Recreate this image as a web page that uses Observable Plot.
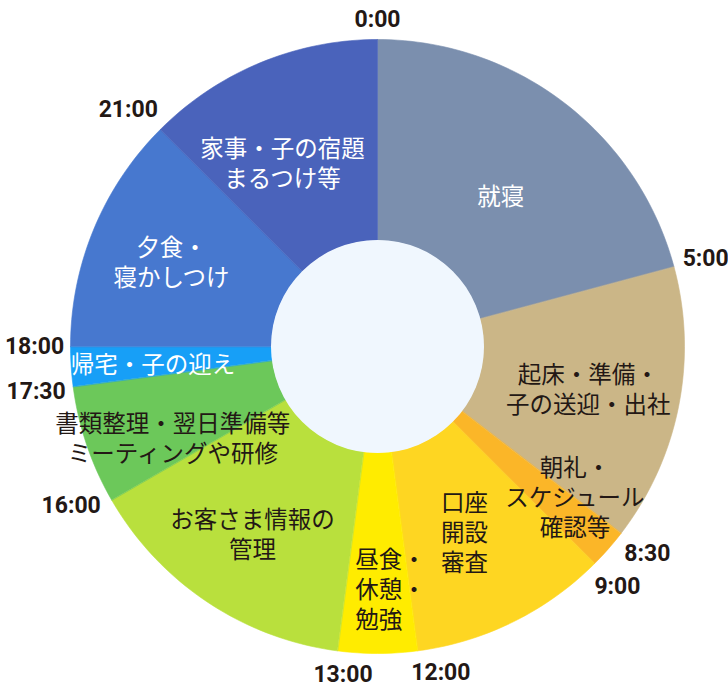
<!DOCTYPE html>
<html>
<head>
<meta charset="utf-8">
<script src="https://cdn.jsdelivr.net/npm/d3@7"></script>
<script src="https://cdn.jsdelivr.net/npm/@observablehq/plot@0.6"></script>
<style>
  html, body { margin: 0; padding: 0; background: #ffffff; }
  #chart svg { display: block; }
</style>
</head>
<body>
<div id="chart"></div>
<script>
// ---- data (one day, clockwise from 0:00) ----
const activities = [
  "就寝",
  "起床・準備・\n子の送迎・出社",
  "朝礼・\nスケジュール\n確認等",
  "口座\n開設\n審査",
  "昼食・\n休憩・\n勉強",
  "お客さま情報の\n管理",
  "書類整理・翌日準備等\nミーティングや研修",
  "帰宅・子の迎え",
  "夕食・\n寝かしつけ",
  "家事・子の宿題\nまるつけ等"
];
// drawn span of each activity, hours
const durations = [5, 3.5, 0.5, 2.5, 1, 3.5, 1.5, 0.5, 3, 3];
const palette = ["#7b8fae", "#cbb687", "#fbb628", "#fed622", "#ffec00",
                 "#b9e03d", "#6cc85a", "#179ff7", "#4778cf", "#4a63bb"];
const labelInk = ["#ffffff", "#231815", "#231815", "#231815", "#231815",
                  "#231815", "#231815", "#ffffff", "#ffffff", "#ffffff"];
// time labels at the start of each activity
const tickLabels = ["0:00", "5:00", "8:30", "9:00", "12:00", "13:00", "16:00", "17:30", "18:00", "21:00"];

// ---- layout ----
const W = 728, H = 687;
const cx = 377, cy = 346;         // centre in page pixels
const R_OUT = 307, R_IN = 106;
const ang = h => h / 24 * 2 * Math.PI;
const rad = deg => deg * Math.PI / 180;
const pt = (r, t) => ({x: r * Math.sin(t), y: r * Math.cos(t)});

const starts = d3.cumsum([0, ...durations]).slice(0, durations.length);

const wedges = durations.map((d, i) => {
  const s = starts[i], e = s + d;
  const n = Math.max(4, Math.ceil(d * 12));
  const pts = [];
  for (let k = 0; k <= n; k++) pts.push({...pt(R_OUT, ang(s + (e - s) * k / n)), id: i});
  for (let k = n; k >= 0; k--) pts.push({...pt(R_IN, ang(s + (e - s) * k / n)), id: i});
  return pts;
});

// label placement in polar terms: [radius, angle offset from wedge middle (deg)]
const labelPlace = [[195, 1.7], [215, 0], [248, -4], [204, 1], [242, -3],
                    [225, 0], [224, -5.25], [225, -0.5], [223, 0], [207, -4.8]];
const labels = activities.map((a, i) => {
  const midDeg = (starts[i] + durations[i] / 2) / 24 * 360;
  const [r, off] = labelPlace[i];
  return {...pt(r, rad(midDeg + off)), text: a, ink: labelInk[i], i};
});

// tick labels sit just outside the ring at each boundary; a few are nudged apart (deg)
const tickNudge = {4: -3.5, 5: -1.5, 6: 2.5, 9: -1.5};
const ticks = tickLabels.map((t, i) => {
  const th = ang(starts[i]) + rad(tickNudge[i] || 0);
  const w = 11.2 * t.length, h = 24;
  const ext = Math.abs(Math.sin(th)) * w / 2 + Math.abs(Math.cos(th)) * h / 2;
  return {...pt(R_OUT + 8 + ext, th), text: t};
});

const cjk = "'Noto Sans CJK JP', 'Noto Sans', sans-serif";

const plot = Plot.plot({
  width: W,
  height: H,
  margin: 0,
  x: {domain: [-cx, W - cx], axis: null},
  y: {domain: [cy - H, cy], axis: null},
  marks: [
    ...wedges.map((pts, i) => Plot.line(pts, {
      x: "x", y: "y", fill: palette[i], stroke: palette[i], strokeWidth: 0.6,
      curve: "linear-closed"
    })),
    Plot.dot([{x: 0, y: 0}], {x: "x", y: "y", r: R_IN + 0.5, fill: "#f0f7fe", stroke: "none"}),
    Plot.text(labels.filter(d => d.i !== 4), {
      x: "x", y: "y", text: "text", fill: "ink",
      fontFamily: cjk, fontSize: 23.5, lineHeight: 1.28, textAnchor: "middle"
    }),
    Plot.text(labels.filter(d => d.i === 4), {
      x: "x", y: "y", text: "text", fill: "ink", dx: -35,
      fontFamily: cjk, fontSize: 23.5, lineHeight: 1.28, textAnchor: "start"
    }),
    Plot.text(ticks, {
      x: "x", y: "y", text: "text", fill: "#231815",
      fontFamily: "Roboto, 'Liberation Sans', sans-serif",
      fontWeight: 700, fontSize: 23, textAnchor: "middle"
    })
  ]
});
document.getElementById("chart").appendChild(plot);
</script>
</body>
</html>
